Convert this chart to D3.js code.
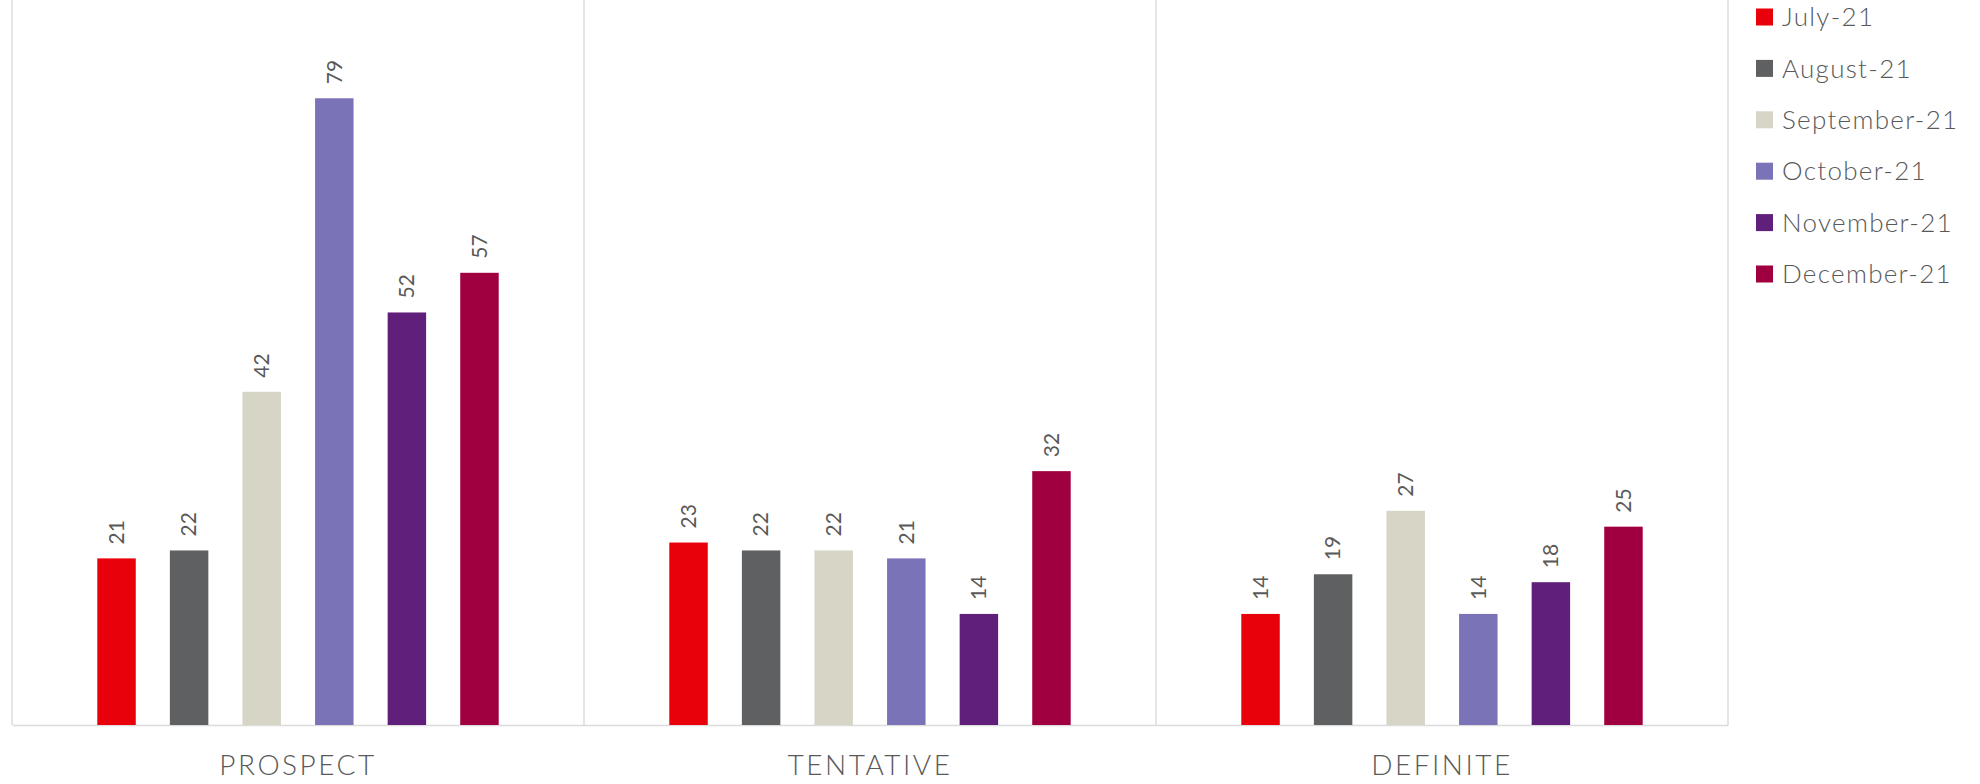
<!DOCTYPE html>
<html>
<head>
<meta charset="utf-8">
<script src="https://cdn.jsdelivr.net/npm/d3@7"></script>
<style>
  body { margin: 0; background: #fff; }
  svg { display: block; }
  text { font-family: Lato, "Open Sans", sans-serif; }
</style>
</head>
<body>
<div id="chart"></div>
<script>
// dados do gráfico
const categorias = ['PROSPECT', 'TENTATIVE', 'DEFINITE'];
const meses = ['July-21', 'August-21', 'September-21', 'October-21', 'November-21', 'December-21'];
const cores = ['#e8000b', '#5f6062', '#d6d5c6', '#7b73b8', '#5f1f7a', '#a0003f'];

// valores por mês, na ordem das categorias
const jul = [21, 23, 14];
const ago = [22, 22, 19];
const set = [42, 22, 27];
const out = [79, 21, 14];
const nov = [52, 14, 18];
const dez = [57, 32, 25];
const series = [jul, ago, set, out, nov, dez];

const largura = 1980;
const altura = 784;
const base = 725;

const svg = d3.select('#chart').append('svg')
  .attr('width', largura)
  .attr('height', altura);

// escalas
const x0 = d3.scaleBand().domain(categorias).range([12, 1728]).padding(0);
const x1 = d3.scaleBand().domain(meses).range([0, x0.bandwidth()])
  .paddingInner(0.47).paddingOuter(1.175);
const y = d3.scaleLinear().domain([0, 90]).range([base, 11]);

// linhas verticais entre os grupos
const limites = categorias.map(c => x0(c)).concat([x0.range()[1]]);
svg.append('g').selectAll('line')
  .data(limites)
  .join('line')
  .attr('x1', d => d).attr('x2', d => d)
  .attr('y1', 0).attr('y2', base)
  .attr('stroke', '#dcdcdc')
  .attr('stroke-width', 1.5);

// eixo de baixo
const eixo = svg.append('g')
  .attr('transform', `translate(0,${base})`)
  .call(d3.axisBottom(x0).tickSize(0).tickPadding(30));
eixo.select('.domain').attr('stroke', '#dcdcdc').attr('stroke-width', 1.5);
eixo.selectAll('text')
  .attr('font-family', 'Lato, sans-serif')
  .attr('font-size', 28)
  .attr('font-weight', 300)
  .attr('letter-spacing', 2.5)
  .attr('fill', '#595959');

// barras
const linhas = [];
categorias.forEach((c, i) => {
  meses.forEach((m, j) => {
    linhas.push({ cat: c, mes: m, valor: series[j][i], cor: cores[j] });
  });
});

svg.append('g').selectAll('rect')
  .data(linhas)
  .join('rect')
  .attr('x', d => x0(d.cat) + x1(d.mes))
  .attr('y', d => y(d.valor))
  .attr('width', x1.bandwidth())
  .attr('height', d => base - y(d.valor))
  .attr('fill', d => d.cor);

// rótulos de valor (girados)
svg.append('g').selectAll('text')
  .data(linhas)
  .join('text')
  .attr('transform', d => `translate(${x0(d.cat) + x1(d.mes) + x1.bandwidth() / 2},${y(d.valor) - 14}) rotate(-90)`)
  .attr('dy', '0.35em')
  .attr('font-size', 21)
  .attr('fill', '#595959')
  .text(d => d.valor);

// legenda
const legenda = svg.append('g').attr('transform', 'translate(1756,17)');
const item = legenda.selectAll('g')
  .data(meses)
  .join('g')
  .attr('transform', (d, i) => `translate(0,${i * 51.4})`);
item.append('rect')
  .attr('x', 0).attr('y', -8.5)
  .attr('width', 17).attr('height', 17)
  .attr('fill', (d, i) => cores[i]);
item.append('text')
  .attr('x', 26)
  .attr('dy', '0.35em')
  .attr('font-size', 26)
  .attr('font-weight', 300)
  .attr('letter-spacing', 1.3)
  .attr('fill', '#595959')
  .text(d => d);
</script>
</body>
</html>
